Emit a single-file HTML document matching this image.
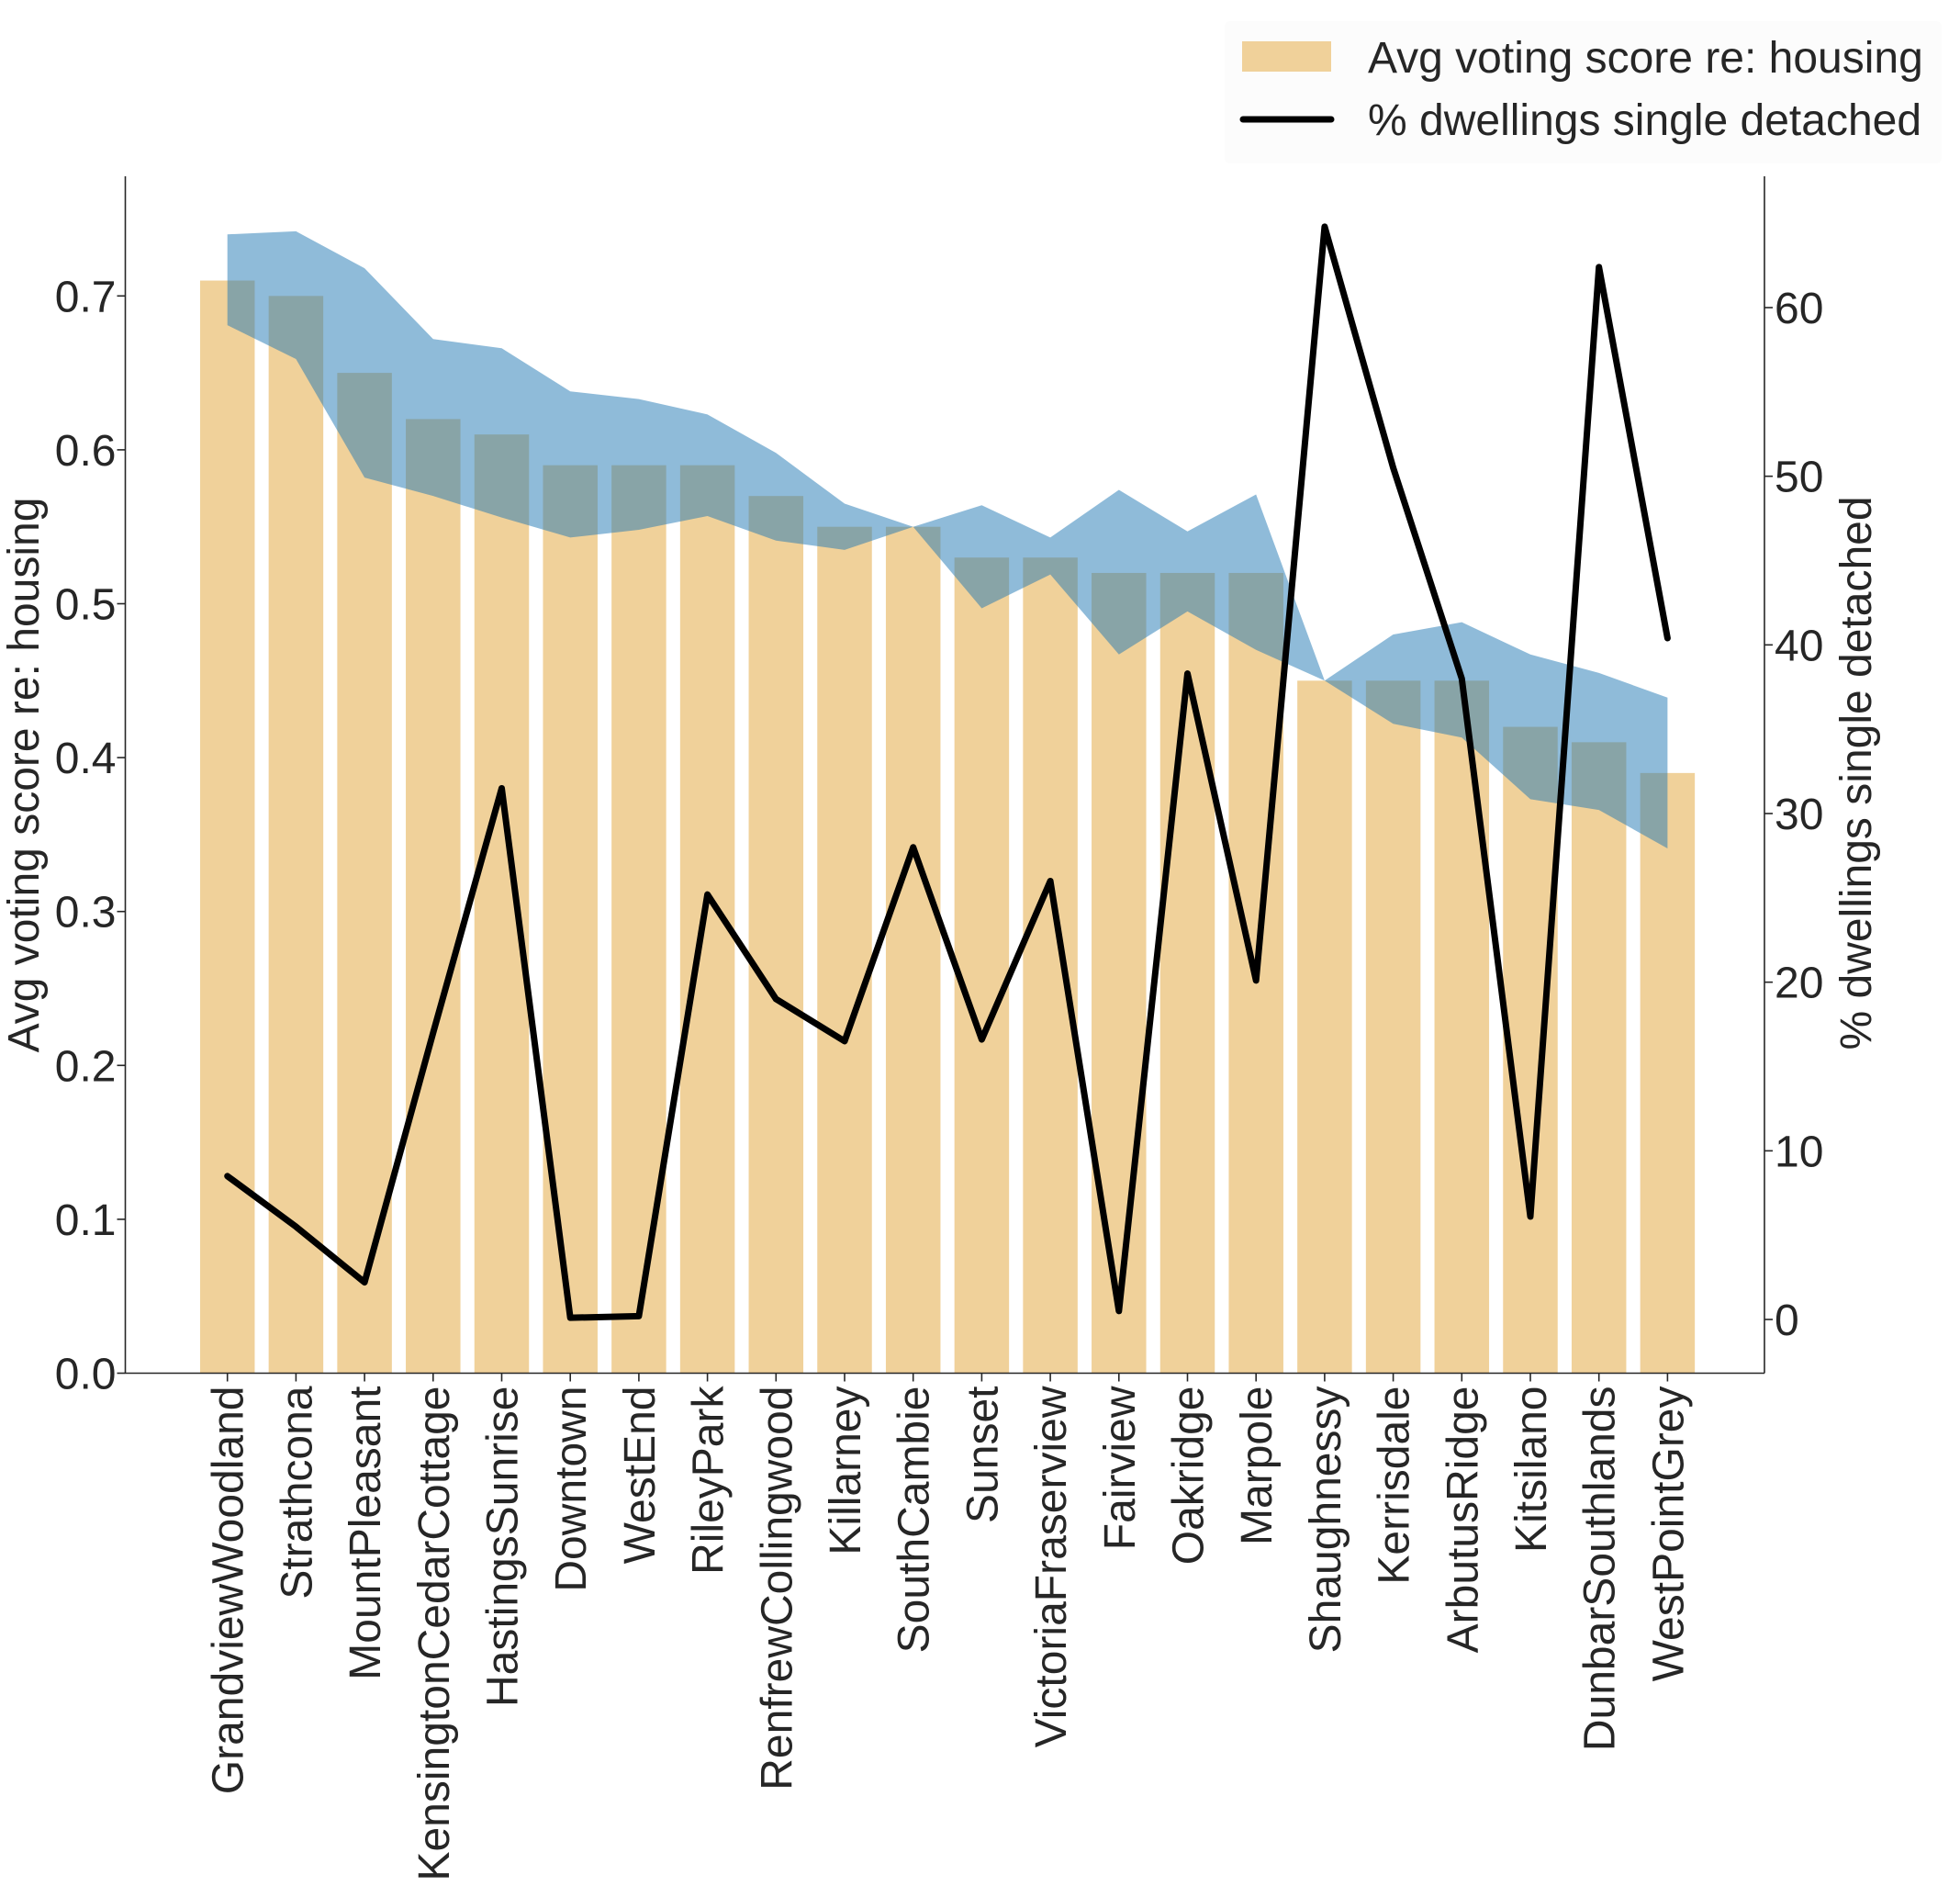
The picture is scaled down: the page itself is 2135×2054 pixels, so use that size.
<!DOCTYPE html>
<html><head><meta charset="utf-8"><style>
body{margin:0;background:#fff}
svg text{font-family:"Liberation Sans",sans-serif;fill:#262626}
</style></head><body>
<svg id="chart" width="2135" height="2049" xmlns="http://www.w3.org/2000/svg">
<g id="plot"></g>
<g id="axes"></g>
<g>
<rect x="1334" y="23" width="781" height="155" rx="6" fill="#fcfcfc"/>
<rect x="1353" y="45" width="97" height="33" fill="#f0d19a"/>
<text x="1490" y="79" font-size="48">Avg voting score re: housing</text>
<line x1="1354" y1="130" x2="1450" y2="130" stroke="#000" stroke-width="7" stroke-linecap="round"/>
<text x="1490" y="147" font-size="48">% dwellings single detached</text>
</g>
<text transform="translate(42,844) rotate(-90)" text-anchor="middle" font-size="48">Avg voting score re: housing</text>
<text transform="translate(2038,842) rotate(-90)" text-anchor="middle" font-size="48">% dwellings single detached</text>
</svg>
<script>
const categories=["GrandviewWoodland","Strathcona","MountPleasant","KensingtonCedarCottage","HastingsSunrise","Downtown","WestEnd","RileyPark","RenfrewCollingwood","Killarney","SouthCambie","Sunset","VictoriaFraserview","Fairview","Oakridge","Marpole","Shaughnessy","Kerrisdale","ArbutusRidge","Kitsilano","DunbarSouthlands","WestPointGrey"];
const scores=[0.71,0.70,0.65,0.62,0.61,0.59,0.59,0.59,0.57,0.55,0.55,0.53,0.53,0.52,0.52,0.52,0.45,0.45,0.45,0.42,0.41,0.39];
const bandUpper=[0.740,0.742,0.718,0.672,0.666,0.638,0.633,0.623,0.598,0.565,0.550,0.564,0.543,0.574,0.547,0.571,0.450,0.480,0.488,0.467,0.455,0.439];
const bandLower=[0.681,0.659,0.582,0.570,0.556,0.543,0.548,0.557,0.541,0.535,0.550,0.497,0.519,0.467,0.495,0.470,0.450,0.422,0.413,0.373,0.366,0.341];
const pctDetached=[8.5,5.5,2.2,17,31.5,0.1,0.2,25.2,19,16.5,28,16.6,26,0.5,38.3,20.1,64.8,50.5,38,6.1,62.4,40.4];
const leftTicks=[0,0.1,0.2,0.3,0.4,0.5,0.6,0.7];
const rightTicks=[0,10,20,30,40,50,60];
const NS="http://www.w3.org/2000/svg";
const L=136.5,R=1922,T=192,B=1495.5;
const x=i=>247.7+i*74.7;
const yL=v=>B-(v/0.7)*(B-322.3);
const yR=v=>1437-(v/60)*(1437-335);
function mk(tag,attrs,parent){const e=document.createElementNS(NS,tag);for(const k in attrs)e.setAttribute(k,attrs[k]);parent.appendChild(e);return e;}
const plot=document.getElementById('plot'),axes=document.getElementById('axes');
const bw=59.5;
scores.forEach((v,i)=>{const r=mk('rect',{x:x(i)-bw/2,y:yL(v),width:bw,height:B-yL(v),fill:'#f0d19a'},plot);

});
let pts=bandUpper.map((v,i)=>x(i)+','+yL(v));
for(let i=bandLower.length-1;i>=0;i--)pts.push(x(i)+','+yL(bandLower[i]));
const band=mk('polygon',{points:pts.join(' '),fill:'rgb(31,119,180)','fill-opacity':0.5},plot);


const line=mk('polyline',{points:pctDetached.map((v,i)=>x(i)+','+yR(v)).join(' '),fill:'none',stroke:'#000','stroke-width':7,'stroke-linejoin':'round','stroke-linecap':'round'},plot);


const la=mk('line',{x1:L,y1:T,x2:L,y2:B,stroke:'#262626','stroke-width':1.6},axes);


const ra=mk('line',{x1:R,y1:T,x2:R,y2:B,stroke:'#262626','stroke-width':1.6},axes);


const xa=mk('line',{x1:L,y1:B,x2:R,y2:B,stroke:'#262626','stroke-width':1.6},axes);


leftTicks.forEach(v=>{mk('line',{x1:L-9,y1:yL(v),x2:L,y2:yL(v),stroke:'#262626','stroke-width':1.6},axes);
const t=mk('text',{x:L-10,y:yL(v)+17,'text-anchor':'end','font-size':48},axes);t.textContent=v.toFixed(1);

});
rightTicks.forEach(v=>{mk('line',{x1:R,y1:yR(v),x2:R+9,y2:yR(v),stroke:'#262626','stroke-width':1.6},axes);
const t=mk('text',{x:R+11,y:yR(v)+17,'font-size':48},axes);t.textContent=v;

});
categories.forEach((c,i)=>{mk('line',{x1:x(i),y1:B,x2:x(i),y2:B+9,stroke:'#262626','stroke-width':1.6},axes);
const t=mk('text',{transform:`translate(${x(i)+17},${B+14}) rotate(-90)`,'text-anchor':'end','font-size':48},axes);t.textContent=c;

});
</script>
</body></html>
